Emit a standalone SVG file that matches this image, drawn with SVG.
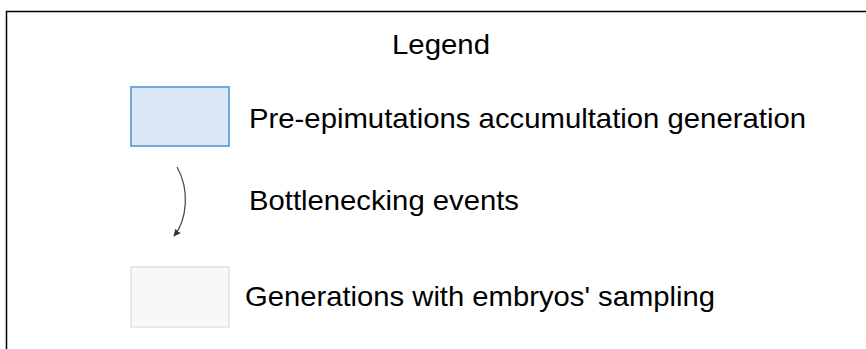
<svg xmlns="http://www.w3.org/2000/svg" width="866" height="349" viewBox="0 0 866 349">
<style>
text{font-family:"Liberation Sans",Arial,sans-serif;fill:#000;}
.lbl{font-size:28px;}
</style>
<defs>
<marker id="ah" viewBox="0 0 10 10" refX="9" refY="5" markerWidth="7" markerHeight="7" markerUnits="userSpaceOnUse" orient="auto"><path d="M0,0 L10,5 L0,10 z" fill="#333"/></marker>
</defs>
<rect x="0" y="0" width="866" height="349" fill="#fff"/>
<path d="M6.5,349 V11.5 H866" fill="none" stroke="#000" stroke-width="1.5"/>
<text x="392" y="54" font-size="28" textLength="98" lengthAdjust="spacingAndGlyphs">Legend</text>
<g id="node-pre">
<rect x="131" y="87" width="98" height="59" fill="#d9e7f4" stroke="#6fa8dc" stroke-width="2"/>
<text class="lbl" x="249" y="128" textLength="557" lengthAdjust="spacingAndGlyphs">Pre-epimutations accumultation generation</text>
</g>
<g id="connectors">
<path d="M177,167 C190,190 187,220 174,236" fill="none" stroke="#444" stroke-width="1.2" marker-end="url(#ah)"/>
</g>
<g id="node-bottleneck">
<text class="lbl" x="249" y="210" textLength="270" lengthAdjust="spacingAndGlyphs">Bottlenecking events</text>
</g>
<g id="node-gen">
<rect x="131" y="267" width="98" height="60" fill="#f8f8f8" stroke="#e8e8e8" stroke-width="2"/>
<text class="lbl" x="245" y="306" textLength="470" lengthAdjust="spacingAndGlyphs">Generations with embryos' sampling</text>
</g>
</svg>
